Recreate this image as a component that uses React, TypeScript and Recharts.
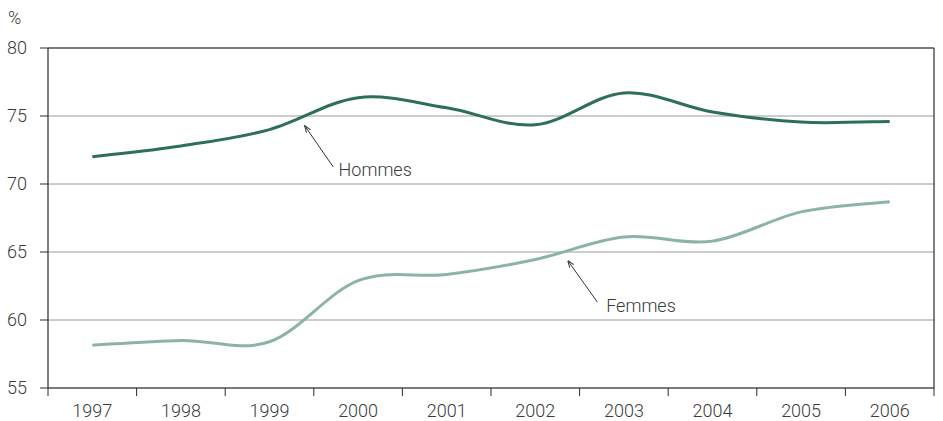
import { CartesianGrid, Line, LineChart, ReferenceDot, ReferenceLine, XAxis, YAxis } from "recharts";

// Taux d'emploi (%) par sexe, 1997-2006
const years = ["1997", "1998", "1999", "2000", "2001", "2002", "2003", "2004", "2005", "2006"];
const hommes = [72.0, 72.8, 74.0, 76.35, 75.6, 74.35, 76.7, 75.3, 74.55, 74.6];
const femmes = [58.15, 58.5, 58.4, 62.9, 63.35, 64.45, 66.1, 65.8, 67.95, 68.7];
const yTicks = [55, 60, 65, 70, 75, 80];

const data = years.map((year, i) => ({ idx: i, year, hommes: hommes[i], femmes: femmes[i] }));

// label ticks at category centres, tick marks on category boundaries
const xTicks = years.flatMap((_, i) => (i === 0 ? [-0.5, 0, 0.5] : [i, i + 0.5]));

const FONT = "Roboto, 'Liberation Sans', sans-serif";
const FONT_SIZE = 18;
const TEXT = "#3b3b3b";
const AXIS = "#2b2b2b";

// Excel-like smoothed line (uniform Catmull-Rom as cubic Bezier segments)
const smoothCurve = (context: any) => {
  let pts: [number, number][] = [];
  return {
    areaStart() {},
    areaEnd() {},
    lineStart() {
      pts = [];
    },
    lineEnd() {
      if (!pts.length) return;
      context.moveTo(pts[0][0], pts[0][1]);
      for (let i = 0; i < pts.length - 1; i++) {
        const p0 = pts[i - 1] ?? pts[i];
        const p1 = pts[i];
        const p2 = pts[i + 1];
        const p3 = pts[i + 2] ?? p2;
        context.bezierCurveTo(
          p1[0] + (p2[0] - p0[0]) / 6,
          p1[1] + (p2[1] - p0[1]) / 6,
          p2[0] - (p3[0] - p1[0]) / 6,
          p2[1] - (p3[1] - p1[1]) / 6,
          p2[0],
          p2[1]
        );
      }
    },
    point(x: number, y: number) {
      pts.push([+x, +y]);
    },
  };
};

function YearTick(props: any) {
  const { x, y, payload } = props;
  const v = payload.value as number;
  if (Number.isInteger(v)) {
    return (
      <text x={x} y={y + 29} textAnchor="middle" fill={TEXT} fontSize={FONT_SIZE} fontFamily={FONT} fontWeight={300}>
        {years[v]}
      </text>
    );
  }
  return <line x1={x} x2={x} y1={y} y2={y + 8} stroke={AXIS} strokeWidth={1} />;
}

const annotations = [
  { name: "Hommes", tip: { x: 2.4, y: 74.26 }, tail: { x: 2.72, y: 71.25 }, text: { x: 2.78, y: 71.05 } },
  { name: "Femmes", tip: { x: 5.37, y: 64.34 }, tail: { x: 5.7, y: 61.32 }, text: { x: 5.8, y: 61.05 } },
];

export default function App() {
  return (
    <div style={{ position: "fixed", left: 0, top: 0, width: 943, height: 421, background: "#fff" }}>
      <span
        style={{
          position: "absolute",
          left: 8,
          top: 8,
          fontFamily: FONT,
          fontWeight: 300,
          fontSize: FONT_SIZE,
          lineHeight: "20px",
          color: TEXT,
        }}
      >
        %
      </span>
      <LineChart width={943} height={421} data={data} margin={{ top: 48, right: 9, bottom: 0, left: 0 }}>
        <defs>
          <marker id="arrowHead" viewBox="0 0 10 10" refX="9" refY="5" markerWidth="7" markerHeight="7" orient="auto">
            <path d="M0,1.5 L10,5 L0,8.5" fill="none" stroke="#333" strokeWidth={1.4} />
          </marker>
        </defs>
        <CartesianGrid vertical={false} stroke="#9a9a9a" strokeWidth={1} />
        <XAxis
          dataKey="idx"
          type="number"
          domain={[-0.5, 9.5]}
          ticks={xTicks}
          interval={0}
          height={33}
          tickLine={false}
          tickSize={0}
          tickMargin={0}
          axisLine={{ stroke: AXIS, strokeWidth: 1.2 }}
          tick={<YearTick />}
        />
        <YAxis
          domain={[55, 80]}
          ticks={yTicks}
          width={48}
          tickSize={8}
          tickMargin={13}
          interval={0}
          tickLine={{ stroke: AXIS }}
          axisLine={{ stroke: AXIS, strokeWidth: 1.2 }}
          tick={{ fill: TEXT, fontSize: FONT_SIZE, fontFamily: FONT, fontWeight: 300 }}
        />
        <ReferenceLine y={80} stroke={AXIS} strokeWidth={1.2} />
        <ReferenceLine x={9.5} stroke={AXIS} strokeWidth={1.2} />
        {annotations.map((a) => (
          <ReferenceLine
            key={a.name + "-arrow"}
            segment={[a.tail, a.tip]}
            stroke="#333"
            strokeWidth={1}
            markerEnd="url(#arrowHead)"
          />
        ))}
        {annotations.map((a) => (
          <ReferenceDot
            key={a.name + "-label"}
            x={a.text.x}
            y={a.text.y}
            r={0}
            stroke="none"
            fill="none"
            label={{ value: a.name, position: "right", offset: 0, fill: TEXT, fontSize: FONT_SIZE, fontFamily: FONT, fontWeight: 300 }}
          />
        ))}
        <Line
          dataKey="hommes"
          type={smoothCurve as any}
          stroke="#2e6f57"
          strokeWidth={3}
          dot={false}
          activeDot={false}
          isAnimationActive={false}
        />
        <Line
          dataKey="femmes"
          type={smoothCurve as any}
          stroke="#8cb4a2"
          strokeWidth={3}
          dot={false}
          activeDot={false}
          isAnimationActive={false}
        />
      </LineChart>
    </div>
  );
}
